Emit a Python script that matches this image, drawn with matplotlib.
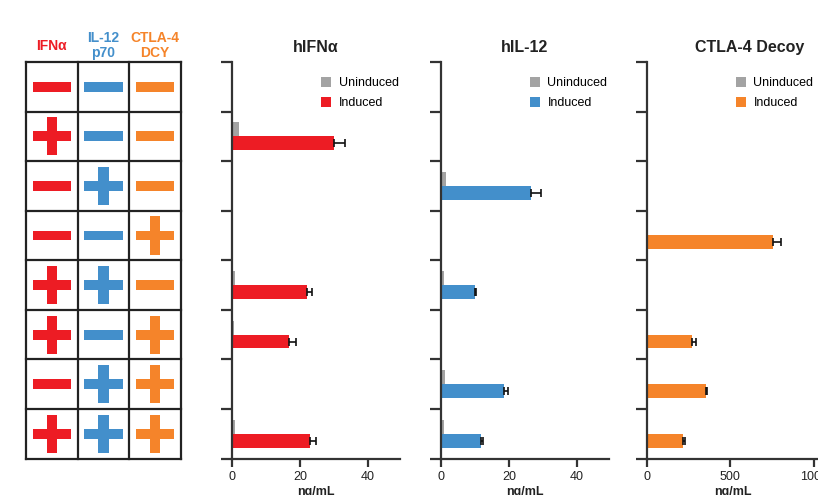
import matplotlib
matplotlib.use("Agg")
import matplotlib.pyplot as plt
from matplotlib.patches import Rectangle, Patch
import numpy as np

plt.rcParams['font.family'] = ['Liberation Sans', 'DejaVu Sans']

# ---- data ----
col_labels = ["IFNα", "IL-12\np70", "CTLA-4\nDCY"]
ifn_on = [0, 1, 0, 0, 1, 1, 0, 1]
il12_on = [0, 0, 1, 0, 1, 0, 1, 1]
ctla_on = [0, 0, 0, 1, 0, 1, 1, 1]

ifn_induced = [0, 29.9, 0, 0, 22.1, 16.7, 0, 23.0]
ifn_induced_err = [0, 3.4, 0, 0, 1.4, 2.0, 0, 1.7]
ifn_uninduced = [0, 2.0, 0, 0, 1.0, 0.7, 0, 0.8]

il12_induced = [0, 0, 26.6, 0, 10.0, 0, 18.4, 11.7]
il12_induced_err = [0, 0, 2.7, 0, 0.4, 0, 1.2, 0.6]
il12_uninduced = [0, 0, 1.5, 0, 1.0, 0, 1.2, 1.0]

ctla_induced = [0, 0, 0, 758, 0, 272, 352, 216]
ctla_induced_err = [0, 0, 0, 43, 0, 20, 10, 10]
ctla_uninduced = [0, 0, 0, 0, 0, 0, 0, 0]

titles = ["hIFNα", "hIL-12", "CTLA-4 Decoy"]
xticks_list = [[0, 20, 40], [0, 20, 40], [0, 500, 1000]]
xlims = [(0, 49.4), (0, 49.4), (0, 1235)]
legend_labels = ["Uninduced", "Induced"]

RED = "#ED1C24"
BLUE = "#438FCB"
ORANGE = "#F5842A"
GRAY = "#A3A3A3"
DARK = "#333333"
colors = [RED, BLUE, ORANGE]

W, H = 818, 495
fig = plt.figure(figsize=(W / 100, H / 100), dpi=100)

def px_axes(left, top, right, bottom):
    return fig.add_axes([left / W, (H - bottom) / H, (right - left) / W, (bottom - top) / H])

TOP, BOT = 62, 458.5

# ---- table ----
tab = px_axes(26, TOP, 181, BOT)
tab.set_xlim(0, 3)
tab.set_ylim(8, 0)
tab.axis('off')
for x in range(4):
    tab.plot([x, x], [0, 8], color='#222222', lw=1.6, clip_on=False, solid_capstyle='projecting')
for y in range(9):
    tab.plot([0, 3], [y, y], color='#222222', lw=1.6, clip_on=False, solid_capstyle='projecting')

hw, hh = 0.74, 0.20   # horizontal bar (data units)
vw, vh = 0.194, 0.77  # vertical bar
for r in range(8):
    for c, states in enumerate([ifn_on, il12_on, ctla_on]):
        cx, cy = c + 0.5, r + 0.5
        col = colors[c]
        tab.add_patch(Rectangle((cx - hw / 2, cy - hh / 2), hw, hh, color=col, lw=0))
        if states[r]:
            tab.add_patch(Rectangle((cx - vw / 2, cy - vh / 2), vw, vh, color=col, lw=0))
for c, lab in enumerate(col_labels):
    tab.text(c + 0.5, -0.33, lab, color=colors[c], ha='center', va='center',
             fontsize=10, fontweight='bold', linespacing=1.05)

# ---- bar panels ----
panels = [
    (232, 400, ifn_uninduced, ifn_induced, ifn_induced_err),
    (441, 609, il12_uninduced, il12_induced, il12_induced_err),
    (647, 853, ctla_uninduced, ctla_induced, ctla_induced_err),
]
rows = np.arange(8) + 0.5
bh = 0.28
for i, (l, r, unind, ind, err) in enumerate(panels):
    ax = px_axes(l, TOP, r, BOT)
    ax.set_xlim(*xlims[i])
    ax.set_ylim(8, 0)
    unind = np.array(unind, float)
    ind = np.array(ind, float)
    err = np.array(err, float)
    ax.barh(rows - bh / 2, unind, height=bh, color=GRAY, lw=0)
    ax.barh(rows + bh / 2, ind, height=bh, color=colors[i], lw=0)
    m = ind > 0
    ax.errorbar(ind[m] + err[m] / 2, rows[m] + bh / 2, xerr=err[m] / 2, fmt='none',
                ecolor='#111111', elinewidth=1.2, capsize=3, capthick=1.2)
    for s in ['top', 'right']:
        ax.spines[s].set_visible(False)
    for s in ['left', 'bottom']:
        ax.spines[s].set_color(DARK)
        ax.spines[s].set_linewidth(1.6)
    ax.set_yticks(range(9))
    ax.set_yticklabels([])
    ax.tick_params(axis='y', length=8, width=1.6, color=DARK)
    ax.set_xticks(xticks_list[i])
    ax.tick_params(axis='x', length=6, width=1.6, color=DARK, labelsize=9, pad=3,
                   labelcolor='#222222')
    ax.set_xlabel("ng/mL", fontsize=9, fontweight='bold', labelpad=2, color='#222222')
    if i == 2:
        ax.xaxis.set_label_coords((733 - l) / (r - l), -0.069)
    ax.set_title(titles[i], fontsize=11.5, fontweight='bold', pad=7, color='#222222')
    handles = [Patch(color=GRAY, lw=0), Patch(color=colors[i], lw=0)]
    anchor_x = 89.0 / (r - l)
    ax.legend(handles, legend_labels, loc='upper left', bbox_to_anchor=(anchor_x, 0.962),
              frameon=False, fontsize=9, handlelength=0.8, handleheight=0.8,
              handletextpad=0.6, labelspacing=0.62, borderaxespad=0, borderpad=0)

fig.savefig("out.png", dpi=100)
